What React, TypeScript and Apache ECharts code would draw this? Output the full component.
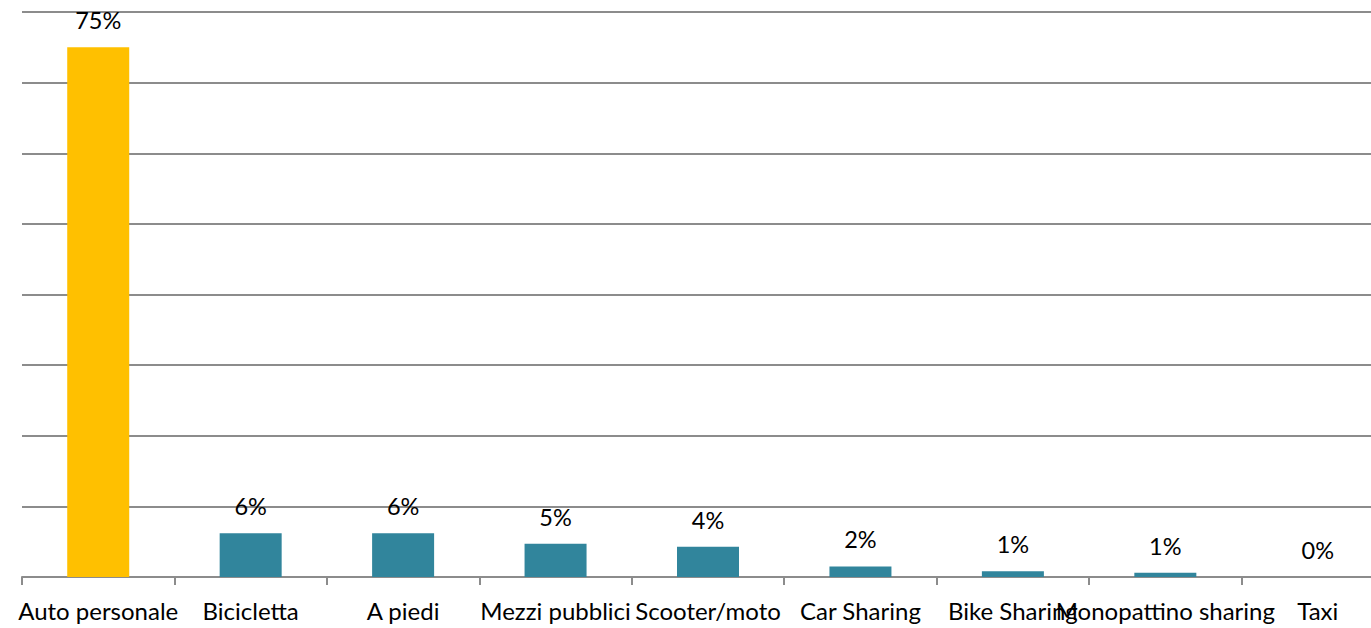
import React, { useEffect, useRef } from "react";
import * as echarts from "echarts";

const categories = [
  "Auto personale",
  "Bicicletta",
  "A piedi",
  "Mezzi pubblici",
  "Scooter/moto",
  "Car Sharing",
  "Bike Sharing",
  "Monopattino sharing",
  "Taxi",
];
const values = [75, 6.2, 6.2, 4.7, 4.3, 1.5, 0.8, 0.6, 0];
const barColors = ["#FFC000", "#31859C", "#31859C", "#31859C", "#31859C", "#31859C", "#31859C", "#31859C", "#31859C"];

export default function App() {
  const ref = useRef<HTMLDivElement>(null);
  useEffect(() => {
    if (!ref.current) return;
    const chart = echarts.init(ref.current, null, { renderer: "svg" });
    chart.setOption({
      animation: false,
      grid: { left: 22, right: 0, top: 12, bottom: 51, containLabel: false, outerBoundsMode: "none" },
      xAxis: {
        type: "category",
        data: categories,
        axisLine: { lineStyle: { color: "#8c8c8c", width: 2 } },
        axisTick: { show: true, length: 8, lineStyle: { color: "#8c8c8c", width: 2 } },
        axisLabel: {
          interval: 0,
          color: "#000",
          fontFamily: "Lato",
          fontSize: 24,
          margin: 21,
        },
      },
      yAxis: {
        type: "value",
        min: 0,
        max: 80,
        interval: 10,
        axisLabel: { show: false },
        axisLine: { show: false },
        axisTick: { show: false },
        splitLine: { lineStyle: { color: "#8c8c8c", width: 2 } },
      },
      series: [
        {
          type: "bar",
          barWidth: 62,
          data: values.map((v, i) => ({ value: v, itemStyle: { color: barColors[i] } })),
          label: {
            show: true,
            position: "top",
            distance: 15,
            color: "#000",
            fontFamily: "Lato",
            fontSize: 23.5,
            formatter: (p: any) => Math.round(p.value) + "%",
          },
        },
      ],
    });
    return () => chart.dispose();
  }, []);
  return (
    <div style={{ position: "absolute", left: 0, top: 0, width: 1371, height: 628, overflow: "hidden", background: "#fff" }}>
      <div ref={ref} style={{ width: 1394, height: 628 }} />
    </div>
  );
}
